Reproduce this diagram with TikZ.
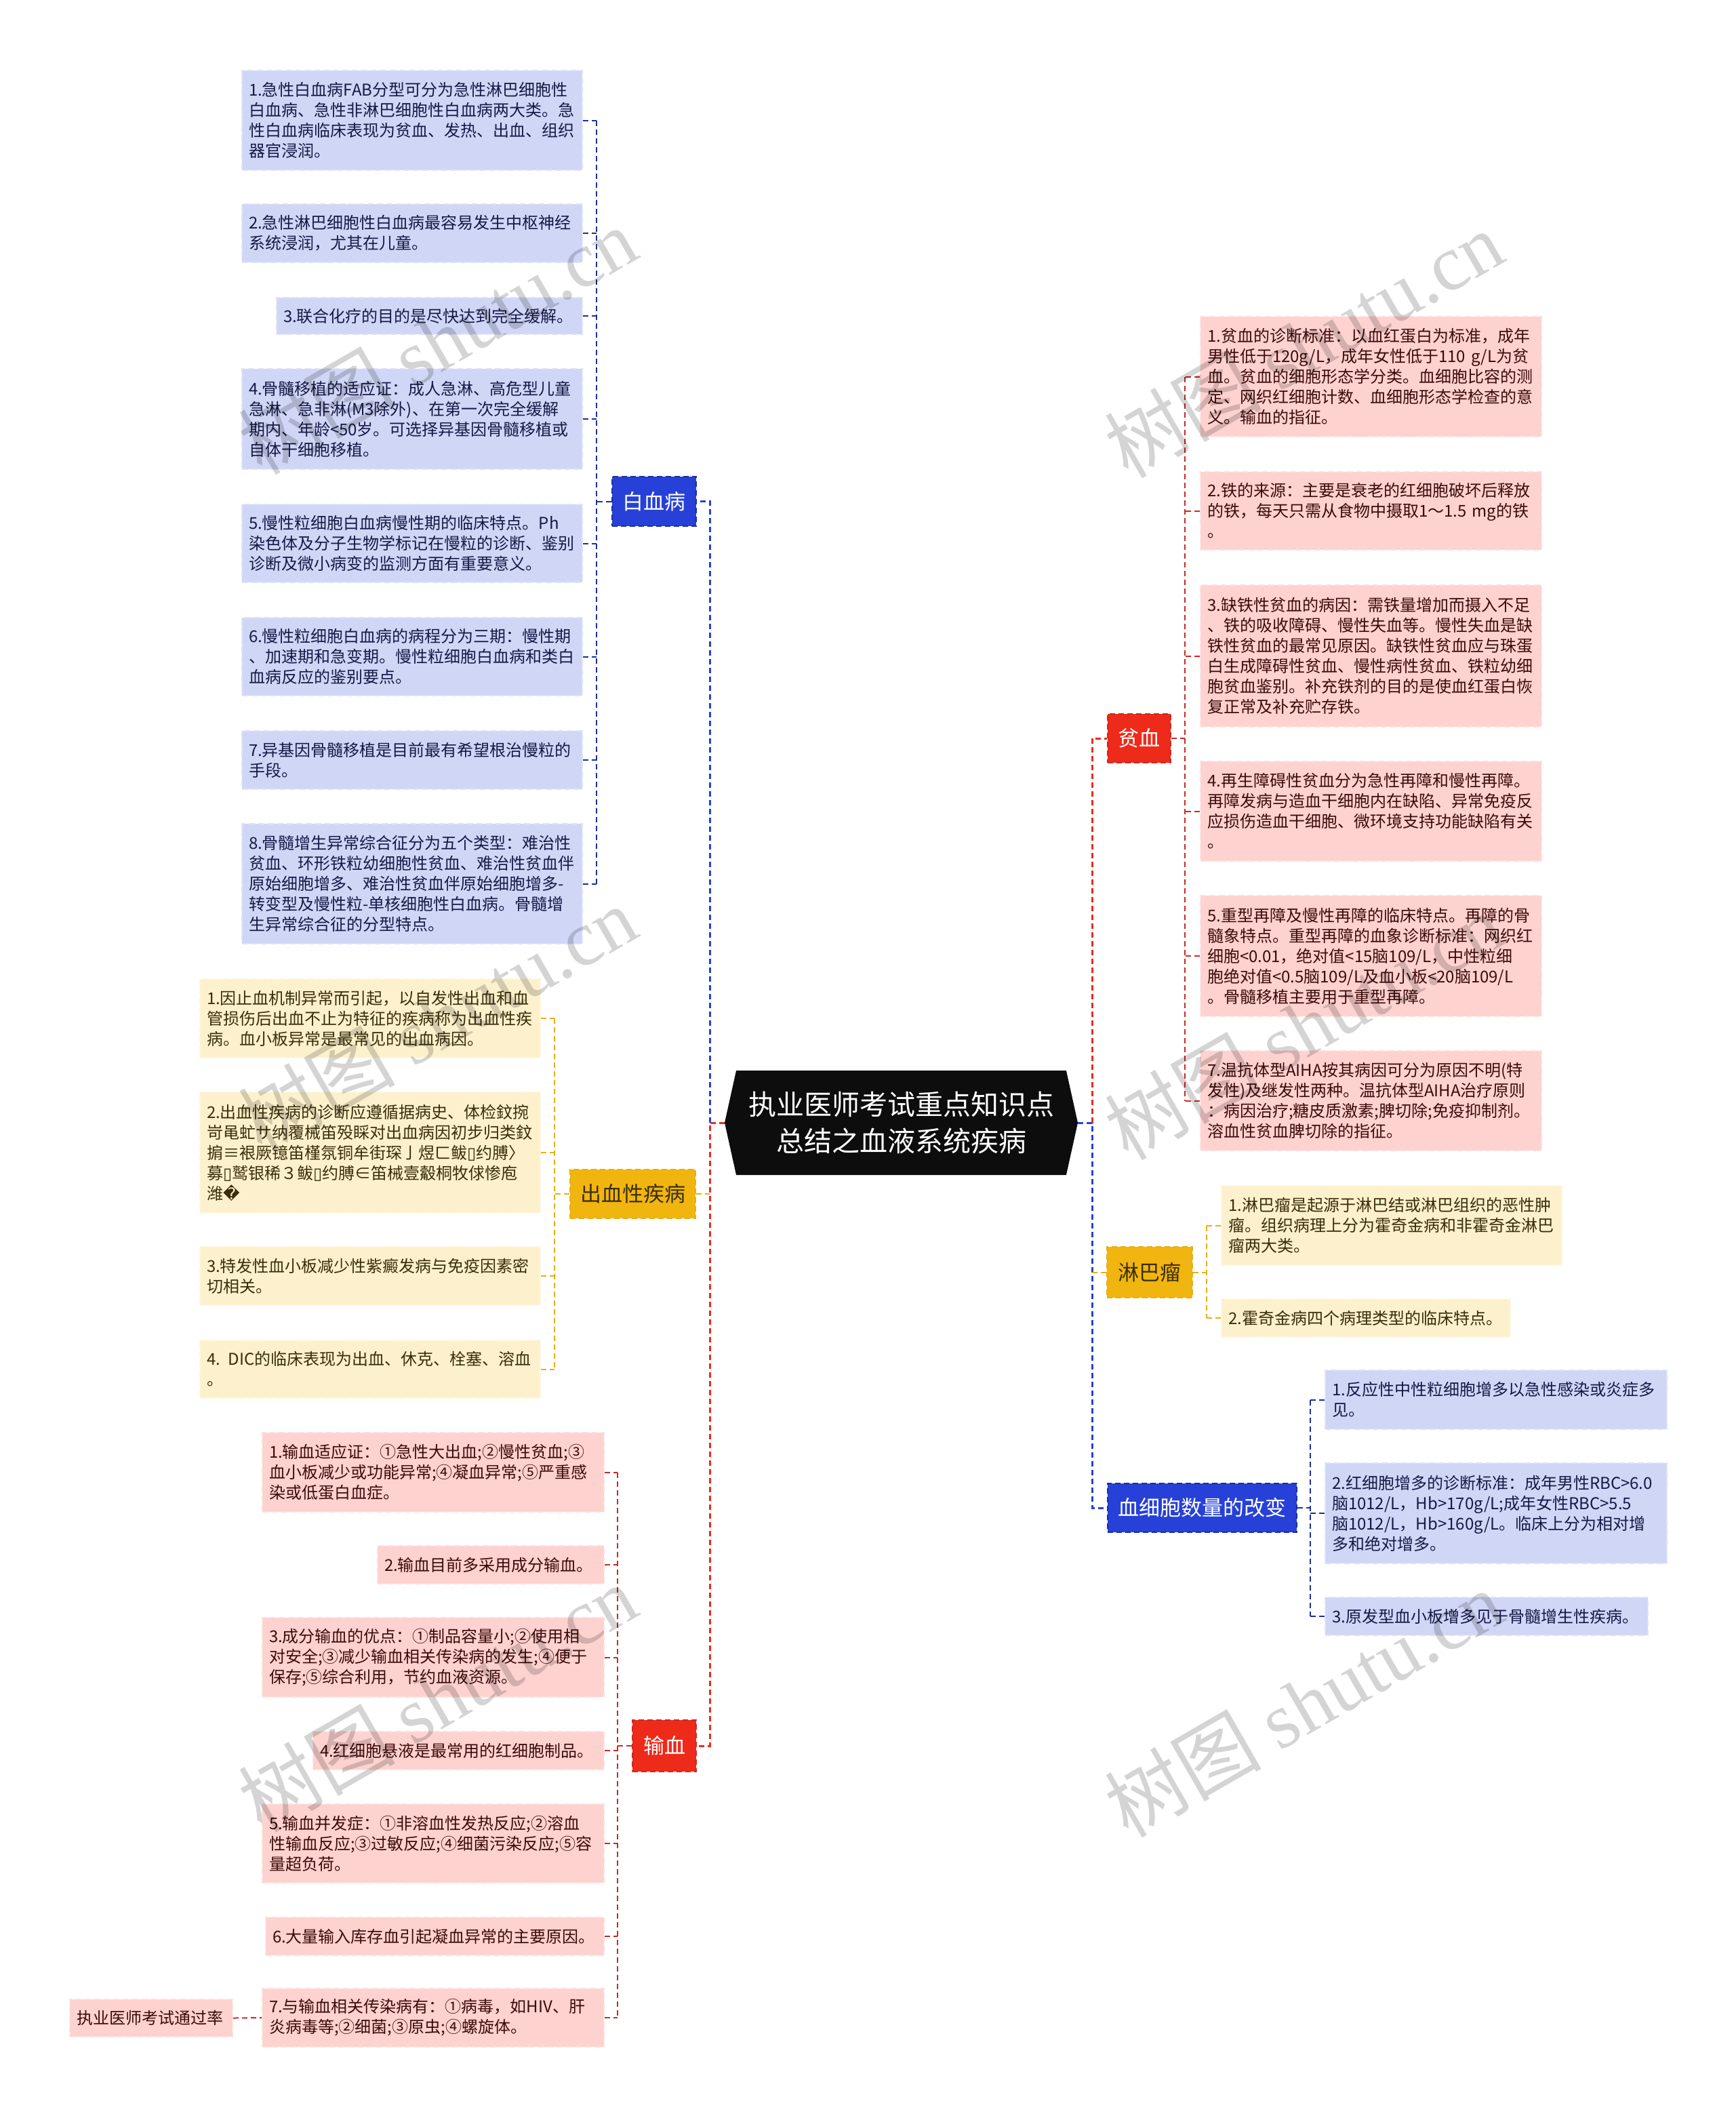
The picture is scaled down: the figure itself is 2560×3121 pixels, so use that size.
\documentclass[tikz,border=0pt]{standalone}
\usepackage{fontspec}
\setmainfont{Noto Sans CJK SC}
\newfontfamily\symfont{DejaVu Sans}
\newfontfamily\markfont{Liberation Serif}
\usetikzlibrary{shapes.symbols}
\definecolor{bluebar}{HTML}{2740D8}
\definecolor{blueline}{HTML}{1B2F9E}
\definecolor{blueitem}{HTML}{D0D6F6}
\definecolor{bluetext}{HTML}{141A45}
\definecolor{redbar}{HTML}{EE2A1A}
\definecolor{redline}{HTML}{C92A22}
\definecolor{reditem}{HTML}{FDD2CF}
\definecolor{redtext}{HTML}{3C0A0A}
\definecolor{yellowbar}{HTML}{F1B50F}
\definecolor{yellowline}{HTML}{E8AE16}
\definecolor{yellowitem}{HTML}{FDF1CD}
\definecolor{yellowtext}{HTML}{3A2E0A}
\tikzset{
  bar/.style = {anchor=north west, inner sep=0pt, align=center, line width=2pt, dash pattern=on 8pt off 5pt, font=\fontsize{31}{38}\selectfont},
  item/.style = {anchor=north west, inner xsep=10pt, inner ysep=0pt, align=left, line width=2pt, dash pattern=on 9pt off 5pt, font=\fontsize{24}{30}\selectfont},
  bluebox/.style = {item, fill=blueitem, draw=blueitem!70, text=bluetext},
  redbox/.style = {item, fill=reditem, draw=reditem!70, text=redtext},
  yellowbox/.style = {item, fill=yellowitem, draw=yellowitem!70, text=yellowtext},
  bluelink/.style = {draw=blueline, line width=2pt, dash pattern=on 8pt off 5pt},
  redlink/.style = {draw=redline, line width=2pt, dash pattern=on 8pt off 5pt},
  yellowlink/.style = {draw=yellowline, line width=2pt, dash pattern=on 8pt off 5pt},
  bluemain/.style = {draw=bluebar, line width=3pt, dash pattern=on 8pt off 5pt},
  redmain/.style = {draw=redbar, line width=3pt, dash pattern=on 8pt off 5pt},
  stamp/.style = {text=black, opacity=0.17, rotate=30, font=\fontsize{116}{120}\selectfont}
}
\begin{document}
\begin{tikzpicture}[x=1pt, y=-1pt]
\useasboundingbox (0,0) rectangle (2560,3121);
\coordinate (leftspine) at (1047,0);
\coordinate (rightspine) at (1611,0);
\coordinate (baixuespine) at (880,0);
\coordinate (chuxuespine) at (818,0);
\coordinate (shuxuespine) at (911,0);
\coordinate (pinxuespine) at (1748,0);
\coordinate (linbaspine) at (1780,0);
\coordinate (xibaospine) at (1933,0);
\node[shape=signal, signal to=west and east, signal pointer angle=155, fill=black!95, text=white, align=center, inner sep=0pt, minimum width=521pt, minimum height=154pt, font=\fontsize{41}{54}\selectfont] (root) at (1329.5,1656) {执业医师考试重点知识点\\总结之血液系统疾病};
\node[bar, fill=bluebar, draw=blueline, text=white, minimum width=124pt, minimum height=73pt] (baixue) at (902,702) {白血病};
\node[bar, fill=yellowbar, draw=yellowline, text=yellowtext, minimum width=185pt, minimum height=72pt] (chuxue) at (840,1724) {出血性疾病};
\node[bar, fill=redbar, draw=redline, text=white, minimum width=94pt, minimum height=76pt] (shuxue) at (932,2536) {输血};
\node[bar, fill=redbar, draw=redline, text=white, minimum width=93pt, minimum height=72pt] (pinxue) at (1633,1052) {贫血};
\node[bar, fill=yellowbar, draw=yellowline, text=yellowtext, minimum width=126pt, minimum height=75pt] (linba) at (1632,1838) {淋巴瘤};
\node[bar, fill=bluebar, draw=blueline, text=white, minimum width=279pt, minimum height=72pt] (xibao) at (1633,2187) {血细胞数量的改变};
\node[bluebox, text width=482pt, minimum height=147pt] (baixue1) at (356,103) {1.急性白血病FAB分型可分为急性淋巴细胞性\\白血病、急性非淋巴细胞性白血病两大类。急\\性白血病临床表现为贫血、发热、出血、组织\\器官浸润。};
\node[bluebox, text width=482pt, minimum height=86pt] (baixue2) at (356,300) {2.急性淋巴细胞性白血病最容易发生中枢神经\\系统浸润，尤其在儿童。};
\node[bluebox, text width=431pt, minimum height=54pt] (baixue3) at (407,438) {3.联合化疗的目的是尽快达到完全缓解。};
\node[bluebox, text width=482pt, minimum height=148pt] (baixue4) at (356,543) {4.骨髓移植的适应证：成人急淋、高危型儿童\\急淋、急非淋(M3除外)、在第一次完全缓解\\期内、年龄<50岁。可选择异基因骨髓移植或\\自体干细胞移植。};
\node[bluebox, text width=482pt, minimum height=115pt] (baixue5) at (356,743) {5.慢性粒细胞白血病慢性期的临床特点。Ph\\染色体及分子生物学标记在慢粒的诊断、鉴别\\诊断及微小病变的监测方面有重要意义。};
\node[bluebox, text width=482pt, minimum height=115pt] (baixue6) at (356,910) {6.慢性粒细胞白血病的病程分为三期：慢性期\\、加速期和急变期。慢性粒细胞白血病和类白\\血病反应的鉴别要点。};
\node[bluebox, text width=482pt, minimum height=86pt] (baixue7) at (356,1077) {7.异基因骨髓移植是目前最有希望根治慢粒的\\手段。};
\node[bluebox, text width=482pt, minimum height=177pt] (baixue8) at (356,1214) {8.骨髓增生异常综合征分为五个类型：难治性\\贫血、环形铁粒幼细胞性贫血、难治性贫血伴\\原始细胞增多、难治性贫血伴原始细胞增多-\\转变型及慢性粒-单核细胞性白血病。骨髓增\\生异常综合征的分型特点。};
\node[yellowbox, text width=482pt, minimum height=116pt] (chuxue1) at (294,1443) {1.因止血机制异常而引起，以自发性出血和血\\管损伤后出血不止为特征的疾病称为出血性疾\\病。血小板异常是最常见的出血病因。};
\node[yellowbox, text width=482pt, minimum height=178pt] (chuxue2) at (294,1610) {2.出血性疾病的诊断应遵循据病史、体检鈫捥\\岢黾虻サ纳覆械笛殁睬对出血病因初步归类鈫\\掮≡裉厥镱笛槿氛铜牟街琛亅煜ㄈ鲅{\symfont ▯}约膊〉\\募{\symfont ▯}鹫银稀３鲅{\symfont ▯}约膊∈笛械壹觳桐牧俅惨庖\\潍{\symfont �}};
\node[yellowbox, text width=482pt, minimum height=86pt] (chuxue3) at (294,1838) {3.特发性血小板减少性紫癜发病与免疫因素密\\切相关。};
\node[yellowbox, text width=482pt, minimum height=85pt] (chuxue4) at (294,1976) {4. DIC的临床表现为出血、休克、栓塞、溶血\\。};
\node[redbox, text width=484pt, minimum height=117pt] (shuxue1) at (386,2112) {1.输血适应证：①急性大出血;②慢性贫血;③\\血小板减少或功能异常;④凝血异常;⑤严重感\\染或低蛋白血症。};
\node[redbox, text width=314pt, minimum height=56pt] (shuxue2) at (556,2279) {2.输血目前多采用成分输血。};
\node[redbox, text width=484pt, minimum height=117pt] (shuxue3) at (386,2385) {3.成分输血的优点：①制品容量小;②使用相\\对安全;③减少输血相关传染病的发生;④便于\\保存;⑤综合利用，节约血液资源。};
\node[redbox, text width=409pt, minimum height=56pt] (shuxue4) at (461,2553) {4.红细胞悬液是最常用的红细胞制品。};
\node[redbox, text width=484pt, minimum height=116pt] (shuxue5) at (386,2660) {5.输血并发症：①非溶血性发热反应;②溶血\\性输血反应;③过敏反应;④细菌污染反应;⑤容\\量超负荷。};
\node[redbox, text width=479pt, minimum height=56pt] (shuxue6) at (391,2827) {6.大量输入库存血引起凝血异常的主要原因。};
\node[redbox, text width=484pt, minimum height=86pt] (shuxue7) at (386,2932) {7.与输血相关传染病有：①病毒，如HIV、肝\\炎病毒等;②细菌;③原虫;④螺旋体。};
\node[redbox, text width=220pt, minimum height=55pt] (tongguo) at (102,2948) {执业医师考试通过率};
\node[redbox, text width=483pt, minimum height=177pt] (pinxue1) at (1770,466) {1.贫血的诊断标准：以血红蛋白为标准，成年\\男性低于120g/L，成年女性低于110 g/L为贫\\血。贫血的细胞形态学分类。血细胞比容的测\\定、网织红细胞计数、血细胞形态学检查的意\\义。输血的指征。};
\node[redbox, text width=483pt, minimum height=115pt] (pinxue2) at (1770,695) {2.铁的来源：主要是衰老的红细胞破坏后释放\\的铁，每天只需从食物中摄取1～1.5 mg的铁\\。};
\node[redbox, text width=483pt, minimum height=209pt] (pinxue3) at (1770,862) {3.缺铁性贫血的病因：需铁量增加而摄入不足\\、铁的吸收障碍、慢性失血等。慢性失血是缺\\铁性贫血的最常见原因。缺铁性贫血应与珠蛋\\白生成障碍性贫血、慢性病性贫血、铁粒幼细\\胞贫血鉴别。补充铁剂的目的是使血红蛋白恢\\复正常及补充贮存铁。};
\node[redbox, text width=483pt, minimum height=147pt] (pinxue4) at (1770,1122) {4.再生障碍性贫血分为急性再障和慢性再障。\\再障发病与造血干细胞内在缺陷、异常免疫反\\应损伤造血干细胞、微环境支持功能缺陷有关\\。};
\node[redbox, text width=483pt, minimum height=178pt] (pinxue5) at (1770,1320) {5.重型再障及慢性再障的临床特点。再障的骨\\髓象特点。重型再障的血象诊断标准：网织红\\细胞<0.01，绝对值<15脑109/L，中性粒细\\胞绝对值<0.5脑109/L及血小板<20脑109/L\\。骨髓移植主要用于重型再障。};
\node[redbox, text width=483pt, minimum height=147pt] (pinxue7) at (1770,1549) {7.温抗体型AIHA按其病因可分为原因不明(特\\发性)及继发性两种。温抗体型AIHA治疗原则\\：病因治疗;糖皮质激素;脾切除;免疫抑制剂。\\溶血性贫血脾切除的指征。};
\node[yellowbox, text width=482pt, minimum height=117pt] (linba1) at (1801,1748) {1.淋巴瘤是起源于淋巴结或淋巴组织的恶性肿\\瘤。组织病理上分为霍奇金病和非霍奇金淋巴\\瘤两大类。};
\node[yellowbox, text width=406pt, minimum height=56pt] (linba2) at (1801,1915) {2.霍奇金病四个病理类型的临床特点。};
\node[bluebox, text width=484pt, minimum height=87pt] (xibao1) at (1954,2020) {1.反应性中性粒细胞增多以急性感染或炎症多\\见。};
\node[bluebox, text width=484pt, minimum height=148pt] (xibao2) at (1954,2157) {2.红细胞增多的诊断标准：成年男性RBC>6.0\\脑1012/L，Hb>170g/L;成年女性RBC>5.5\\脑1012/L，Hb>160g/L。临床上分为相对增\\多和绝对增多。};
\node[bluebox, text width=456pt, minimum height=56pt] (xibao3) at (1954,2355) {3.原发型血小板增多见于骨髓增生性疾病。};
\draw[redmain] (root.west) -- (root.west -| leftspine) |- (shuxue.east);
\draw[bluemain] (root.west -| leftspine) |- (baixue.east);
\draw[yellowlink] (chuxue.east) -- (chuxue.east -| leftspine);
\draw[bluemain] (root.east) -- (root.east -| rightspine) |- (xibao.west);
\draw[redmain] (root.east -| rightspine) |- (pinxue.west);
\draw[yellowlink] (linba.west) -- (linba.west -| rightspine);
\draw[bluelink] (baixue.west) -- (baixue.west -| baixuespine);
\draw[bluelink] (baixue1.east -| baixuespine) -- (baixue8.east -| baixuespine);
\draw[bluelink] (baixue1.east) -- (baixue1.east -| baixuespine);
\draw[bluelink] (baixue2.east) -- (baixue2.east -| baixuespine);
\draw[bluelink] (baixue3.east) -- (baixue3.east -| baixuespine);
\draw[bluelink] (baixue4.east) -- (baixue4.east -| baixuespine);
\draw[bluelink] (baixue5.east) -- (baixue5.east -| baixuespine);
\draw[bluelink] (baixue6.east) -- (baixue6.east -| baixuespine);
\draw[bluelink] (baixue7.east) -- (baixue7.east -| baixuespine);
\draw[bluelink] (baixue8.east) -- (baixue8.east -| baixuespine);
\draw[yellowlink] (chuxue.west) -- (chuxue.west -| chuxuespine);
\draw[yellowlink] (chuxue1.east -| chuxuespine) -- (chuxue4.east -| chuxuespine);
\draw[yellowlink] (chuxue1.east) -- (chuxue1.east -| chuxuespine);
\draw[yellowlink] (chuxue2.east) -- (chuxue2.east -| chuxuespine);
\draw[yellowlink] (chuxue3.east) -- (chuxue3.east -| chuxuespine);
\draw[yellowlink] (chuxue4.east) -- (chuxue4.east -| chuxuespine);
\draw[redlink] (shuxue.west) -- (shuxue.west -| shuxuespine);
\draw[redlink] (shuxue1.east -| shuxuespine) -- (shuxue7.east -| shuxuespine);
\draw[redlink] (shuxue1.east) -- (shuxue1.east -| shuxuespine);
\draw[redlink] (shuxue2.east) -- (shuxue2.east -| shuxuespine);
\draw[redlink] (shuxue3.east) -- (shuxue3.east -| shuxuespine);
\draw[redlink] (shuxue4.east) -- (shuxue4.east -| shuxuespine);
\draw[redlink] (shuxue5.east) -- (shuxue5.east -| shuxuespine);
\draw[redlink] (shuxue6.east) -- (shuxue6.east -| shuxuespine);
\draw[redlink] (shuxue7.east) -- (shuxue7.east -| shuxuespine);
\draw[redlink] (tongguo.east) -- (shuxue7.west);
\draw[redlink] (pinxue.east) -- (pinxue.east -| pinxuespine);
\draw[redlink] (pinxue1.west -| pinxuespine) -- (pinxue7.west -| pinxuespine);
\draw[redlink] (pinxue1.west) -- (pinxue1.west -| pinxuespine);
\draw[redlink] (pinxue2.west) -- (pinxue2.west -| pinxuespine);
\draw[redlink] (pinxue3.west) -- (pinxue3.west -| pinxuespine);
\draw[redlink] (pinxue4.west) -- (pinxue4.west -| pinxuespine);
\draw[redlink] (pinxue5.west) -- (pinxue5.west -| pinxuespine);
\draw[redlink] (pinxue7.west) -- (pinxue7.west -| pinxuespine);
\draw[yellowlink] (linba.east) -- (linba.east -| linbaspine);
\draw[yellowlink] (linba1.west -| linbaspine) -- (linba2.west -| linbaspine);
\draw[yellowlink] (linba1.west) -- (linba1.west -| linbaspine);
\draw[yellowlink] (linba2.west) -- (linba2.west -| linbaspine);
\draw[bluelink] (xibao.east) -- (xibao.east -| xibaospine);
\draw[bluelink] (xibao1.west -| xibaospine) -- (xibao3.west -| xibaospine);
\draw[bluelink] (xibao1.west) -- (xibao1.west -| xibaospine);
\draw[bluelink] (xibao2.west) -- (xibao2.west -| xibaospine);
\draw[bluelink] (xibao3.west) -- (xibao3.west -| xibaospine);
\node[stamp] (stamp1) at (645,502) {树图 {\markfont shutu.cn}};
\node[stamp] (stamp2) at (1923,507) {树图 {\markfont shutu.cn}};
\node[stamp] (stamp3) at (645,1503) {树图 {\markfont shutu.cn}};
\node[stamp] (stamp4) at (1923,1513) {树图 {\markfont shutu.cn}};
\node[stamp] (stamp5) at (645,2504) {树图 {\markfont shutu.cn}};
\node[stamp] (stamp6) at (1923,2512) {树图 {\markfont shutu.cn}};
\end{tikzpicture}
\end{document}
